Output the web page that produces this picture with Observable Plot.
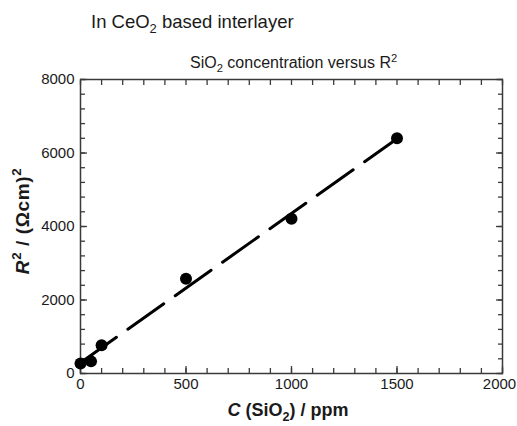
<!DOCTYPE html>
<html>
<head>
<meta charset="utf-8">
<script src="https://cdn.jsdelivr.net/npm/d3@7"></script>
<script src="https://cdn.jsdelivr.net/npm/@observablehq/plot@0.6"></script>
<style>
  html, body { margin: 0; padding: 0; background: #fff; }
  #wrap { position: relative; width: 517px; height: 426px; font-family: "Liberation Sans", Arial, Helvetica, sans-serif; color: #1a1a1a; }
  #wrap svg { position: absolute; left: 0; top: 0; }
  .lbl { position: absolute; white-space: nowrap; line-height: 1; }
  sub, sup { font-size: 70%; line-height: 0; }
</style>
</head>
<body>
<div id="wrap">
  <div class="lbl" style="left:91px; top:13px; font-size:18.5px;">In CeO<sub>2</sub> based interlayer</div>
  <div class="lbl" style="left:190px; top:55px; font-size:16px;">SiO<sub>2</sub> concentration versus R<sup>2</sup></div>
  <div class="lbl" style="left:288px; top:401px; font-size:18px; font-weight:bold; transform:translateX(-50%);"><i>C</i> (SiO<sub>2</sub>) / ppm</div>
  <div class="lbl" style="left:22px; top:221px; font-size:19px; letter-spacing:0.6px; font-weight:bold; transform:translate(-50%,-50%) rotate(-90deg);"><i>R</i><sup>2</sup> / (Ωcm)<sup>2</sup></div>
</div>
<script>
const concentration = [0, 50, 100, 500, 1000, 1500];
const r2 = [270, 330, 770, 2580, 4210, 6400];
const xMajor = [0, 500, 1000, 1500, 2000];
const yMajor = [0, 2000, 4000, 6000, 8000];
const xMinor = d3.range(0, 2001, 100);
const yMinor = d3.range(0, 8001, 400);

const data = concentration.map((c, i) => ({c, r: r2[i]}));
const ink = "#3a3a3a";
const tickOnly = (size) => ({tickSize: size, stroke: ink, strokeWidth: 1.3, fill: "none", label: null});
const fmt = d => String(d);

const chart = Plot.plot({
  width: 517,
  height: 426,
  marginLeft: 80,
  marginRight: 15,
  marginTop: 79,
  marginBottom: 53,
  style: {fontFamily: "'Liberation Sans', Arial, Helvetica, sans-serif", fontSize: "15px", color: "#1a1a1a", background: "transparent"},
  x: {domain: [0, 2000]},
  y: {domain: [0, 8000]},
  marks: [
    Plot.axisX(xMinor, {anchor: "bottom", ...tickOnly(-5)}),
    Plot.axisX(xMajor, {anchor: "bottom", ...tickOnly(-7)}),
    Plot.axisX(xMinor, {anchor: "top", ...tickOnly(-5)}),
    Plot.axisY(yMinor, {anchor: "left", ...tickOnly(-5)}),
    Plot.axisY(yMajor, {anchor: "left", ...tickOnly(-7)}),
    Plot.axisY(yMinor, {anchor: "right", ...tickOnly(-5)}),
    Plot.axisY(yMajor, {anchor: "right", ...tickOnly(-7)}),
    Plot.axisX(xMajor.slice(0, -1), {anchor: "bottom", tickSize: 0, tickPadding: 5, fontSize: 15, tickFormat: fmt, label: null}),
    Plot.axisX(xMajor.slice(-1), {anchor: "bottom", tickSize: 0, tickPadding: 5, fontSize: 15, dx: -3, tickFormat: fmt, label: null}),
    Plot.axisY(yMajor, {anchor: "left", tickSize: 0, tickPadding: 6, fontSize: 15, tickFormat: fmt, label: null}),
    Plot.frame({stroke: ink, strokeWidth: 1.5}),
    Plot.linearRegressionY(data, {x: "c", y: "r", ci: 0, stroke: "black", strokeWidth: 3, strokeDasharray: "44,14"}),
    Plot.dot(data, {x: "c", y: "r", r: 6, fill: "black", stroke: "none"})
  ]
});
document.getElementById("wrap").appendChild(chart);
</script>
</body>
</html>
